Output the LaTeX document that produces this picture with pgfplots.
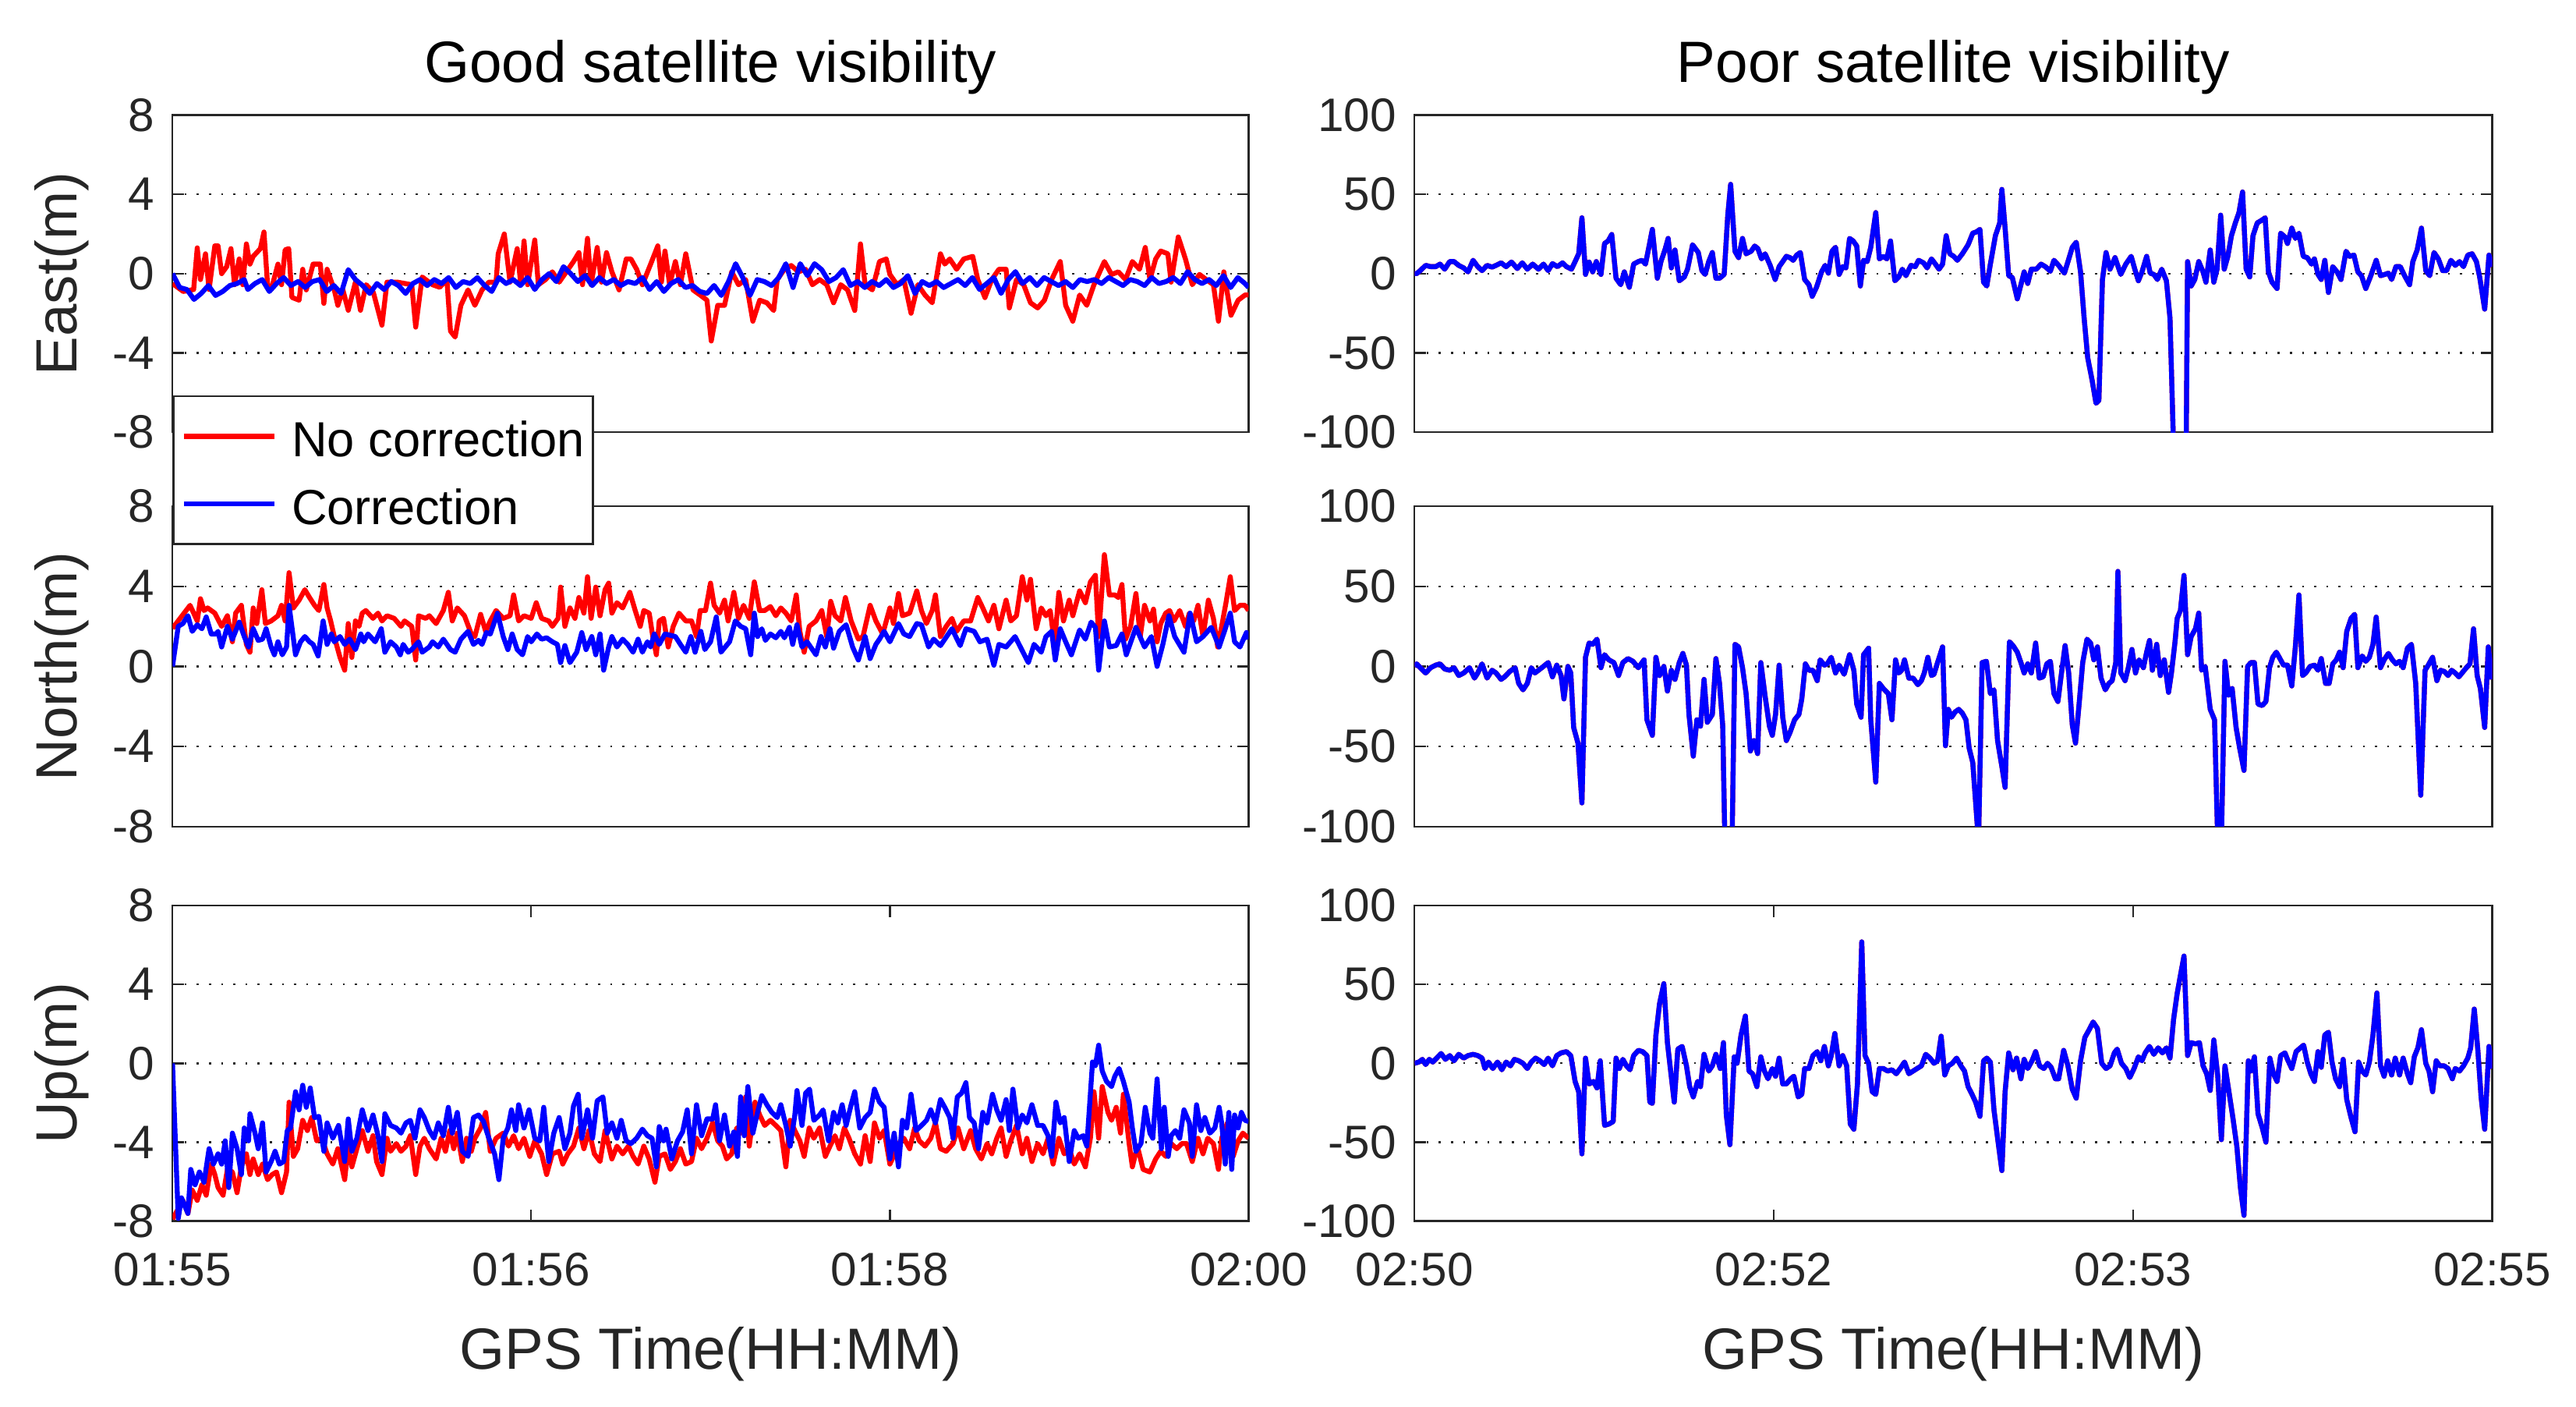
\documentclass[border=0pt]{standalone}
\usepackage{pgfplots}
\pgfplotsset{compat=1.18}
\usepackage{pgfplotstable}
\usepackage{fontspec}
\setmainfont{Liberation Sans}
\definecolor{axgray}{RGB}{38,38,38}

% ---------------- data (time in s from start of window, position error in m)
\pgfplotstableread[row sep=\\]{t y\\0 -0.5\\3 -0.9\\5.9 -0.8\\6.9 1.3\\7.8 -0.3\\9.2 1.0\\10.2 -0.8\\11.8 1.4\\12.7 1.4\\13.7 0.0\\15.1 0.35\\16.3 1.26\\17.3 -0.56\\18.6 0.74\\19.6 -0.56\\20.6 1.5\\21.6 0.48\\22.5 0.87\\24.5 1.26\\25.5 2.1\\26.5 -0.56\\27.5 -0.82\\29.4 0.48\\30.4 -0.56\\31.4 1.2\\32.4 1.26\\33.3 -1.2\\35.3 -1.34\\36.3 0.22\\37.3 -0.82\\39.2 0.48\\41.2 0.48\\42.2 -1.5\\43.1 0.22\\45.1 -0.82\\46.1 -1.6\\47.5 -0.82\\49 -1.85\\51 -0.43\\52.4 -1.85\\54 -0.56\\56 -0.95\\58.4 -2.6\\59.8 -0.43\\62.7 -0.43\\66.7 -0.56\\67.8 -2.7\\69.6 -0.17\\72.5 -0.56\\74.5 -0.69\\76.5 -0.3\\77.5 -2.9\\78.8 -3.2\\80.4 -1.6\\82.4 -0.82\\84.3 -1.6\\86.3 -0.82\\88.2 -0.43\\90.2 -0.43\\90.8 1.0\\92.5 2.0\\94.1 -0.43\\96.1 1.26\\97.1 -0.56\\98 1.65\\99 -0.56\\101 1.7\\102 -0.56\\104 -0.3\\105.9 0.09\\107.8 -0.43\\109.8 0.09\\111.8 0.61\\113.3 1.06\\114.3 -0.56\\115.7 1.78\\116.7 -0.56\\118.4 1.32\\119.6 -0.43\\121 1.06\\122.5 0.09\\124.5 -0.82\\126.5 0.74\\127.8 0.74\\129.4 0.22\\131 -0.56\\133.3 0.48\\135.3 1.4\\136.3 -0.43\\137.3 1.14\\138.6 -0.56\\140.2 0.61\\141.6 -0.56\\143.1 1.0\\145.1 -0.82\\147.1 -1.08\\149 -1.34\\150.2 -3.4\\152 -1.6\\153.9 -1.6\\155.9 0.09\\157.8 -0.56\\159.8 -0.3\\161.8 -2.4\\163.7 -1.34\\165.7 -1.47\\167.6 -1.86\\168.6 -0.3\\170.6 0.22\\172.5 0.41\\174.5 0.09\\176.5 0.22\\178.4 -0.56\\180.4 -0.3\\182.4 -0.56\\184.3 -1.47\\186.3 -0.56\\188.2 -0.82\\190.2 -1.86\\191.8 1.5\\193.1 -0.56\\195.1 -0.82\\197.1 0.61\\199 0.74\\200 -0.04\\202 -0.56\\203.9 -0.3\\205.9 -2.0\\207.8 -0.56\\209.8 -1.08\\211.8 -1.47\\214.1 1.0\\215.3 0.48\\216.7 0.74\\218.6 0.22\\220.6 0.74\\223.1 0.87\\224.5 -0.3\\226.5 -1.21\\228.4 -0.3\\230.4 0.22\\232.4 0.22\\233.3 -1.73\\235.3 -0.3\\237.3 -0.56\\239.2 -1.47\\241.2 -1.73\\243.1 -1.34\\245.1 -0.3\\247.5 0.61\\249 -1.6\\251 -2.4\\252.9 -1.08\\254.9 -1.6\\256.9 -0.56\\259.8 0.61\\261.8 -0.04\\263.7 0.09\\265.7 -0.3\\267.6 0.61\\269.6 0.22\\271.2 1.32\\272.5 -0.3\\274.1 0.74\\275.5 1.14\\277.5 1.0\\278.4 -0.43\\280.4 1.85\\282.4 0.74\\284.3 -0.56\\286.3 -0.04\\288.2 -0.3\\290.2 -0.56\\291.6 -2.4\\293.1 0.09\\295.1 -2.1\\297.1 -1.34\\299 -1.08\\300 -1.08\\}\eastR

\pgfplotstableread[row sep=\\]{t y\\0 0.0\\2 -0.7\\4 -0.8\\6 -1.3\\8 -1.0\\10 -0.6\\12 -1.1\\14 -0.9\\16 -0.6\\18 -0.5\\20 -0.3\\21 -0.8\\23 -0.5\\25 -0.3\\27 -0.9\\29 -0.5\\31 -0.2\\33 -0.6\\35 -0.4\\37 -0.7\\39 -0.4\\41 -0.3\\43 -0.9\\45 -0.6\\47 -1.0\\49 0.2\\51 -0.3\\53 -0.6\\55 -1.0\\57 -0.5\\59 -0.8\\61 -0.4\\63 -0.6\\65 -1.0\\67 -0.5\\69 -0.3\\71 -0.6\\73 -0.3\\75 -0.5\\77 -0.2\\79 -0.7\\81 -0.4\\83 -0.5\\85 -0.2\\87 -0.6\\89 -0.9\\91 -0.2\\93 -0.5\\95 -0.3\\97 -0.6\\99 -0.2\\101 -0.8\\103 -0.3\\105 0.0\\107 -0.4\\109 0.35\\111 0.0\\113 -0.4\\115 -0.1\\117 -0.6\\119 -0.2\\121 -0.5\\123 -0.3\\125 -0.6\\127 -0.4\\129 -0.5\\131 -0.2\\133 -0.8\\135 -0.4\\137 -0.9\\139 -0.5\\141 -0.3\\143 -0.7\\145 -0.6\\147 -0.9\\149 -1.0\\151 -0.6\\153 -1.1\\155 -0.4\\157 0.5\\159 -0.2\\161 -1.1\\163 -0.3\\165 -0.4\\167 -0.6\\169 -0.2\\171 0.5\\173 -0.7\\175 0.5\\177 -0.1\\179 0.5\\181 0.2\\183 -0.4\\185 -0.2\\187 0.2\\189 -0.6\\191 -0.4\\193 -0.7\\195 -0.4\\197 -0.6\\199 -0.3\\201 -0.7\\203 -0.5\\205 -0.1\\207 -1.0\\209 -0.4\\211 -0.6\\213 -0.4\\215 -0.7\\217 -0.5\\219 -0.3\\221 -0.6\\223 -0.2\\225 -0.8\\227 -0.5\\229 -0.2\\231 -1.0\\233 -0.3\\235 0.1\\237 -0.5\\239 -0.2\\241 -0.6\\243 -0.2\\245 -0.4\\247 -0.6\\249 -0.4\\251 -0.7\\253 -0.3\\255 -0.4\\257 -0.3\\259 -0.5\\261 -0.2\\263 -0.4\\265 -0.6\\267 -0.3\\269 -0.4\\271 -0.6\\273 -0.2\\275 -0.5\\277 -0.4\\279 -0.2\\281 -0.5\\283 0.1\\285 -0.3\\287 -0.5\\289 -0.3\\291 -0.6\\293 -0.1\\295 -0.7\\297 -0.2\\299 -0.5\\300 -0.7\\}\eastB

\pgfplotstableread[row sep=\\]{t y\\0 1.9\\4.9 3.05\\6.9 2.27\\7.8 3.38\\8.8 2.79\\9.8 2.92\\11.8 2.66\\13.7 2.0\\15.3 2.53\\16.7 1.23\\17.6 2.66\\19.2 3.05\\20.6 1.1\\21.6 0.71\\22.5 2.92\\23.5 2.14\\24.9 3.83\\25.9 2.14\\27.5 2.27\\29.4 2.53\\30.4 3.05\\31.4 2.27\\32.5 4.68\\33.7 2.92\\35.3 3.31\\36.9 3.83\\38.2 3.44\\39.6 3.05\\40.8 2.79\\42.2 4.09\\43.1 2.92\\44.1 2.27\\45.1 1.49\\46.7 0.45\\48 -0.19\\49 2.14\\50 0.45\\51 2.27\\52 2.0\\52.9 2.66\\53.9 2.79\\55.9 2.4\\57.3 2.66\\58.4 2.27\\59.8 2.53\\61.8 2.4\\63.7 2.0\\64.7 2.27\\66.7 2.0\\67.8 0.32\\68.6 2.53\\70.6 2.4\\71.6 2.53\\73.5 2.14\\75.5 2.79\\76.9 3.7\\78 2.27\\79.4 2.92\\81.4 2.53\\83.3 1.62\\84.3 1.49\\85.9 2.6\\87.3 1.75\\88.6 2.27\\90.2 2.79\\92.2 2.4\\94.1 2.53\\95.1 3.57\\96.5 2.27\\98 2.53\\100 2.4\\101.4 3.18\\102.9 2.4\\104.9 2.27\\105.9 2.0\\107.5 2.4\\108.2 3.96\\109.4 2.0\\110.8 2.92\\112.2 2.4\\113.3 3.44\\114.7 2.66\\115.7 4.48\\116.7 2.4\\118 3.96\\119.2 2.53\\120.6 3.83\\121.6 4.16\\122.5 2.66\\123.9 3.18\\125.5 2.92\\127.5 3.7\\129 2.79\\130.4 2.0\\131.4 2.79\\132.9 2.66\\133.9 1.49\\134.9 0.58\\135.7 2.27\\136.9 2.4\\138.2 0.97\\139.6 2.0\\141.2 2.66\\143.1 2.27\\144.7 2.27\\146.1 1.49\\147.1 2.79\\148.6 2.79\\150 4.16\\151 3.05\\152.5 2.66\\153.9 3.31\\154.9 2.27\\156.5 3.7\\157.8 2.4\\159.2 3.05\\160.8 2.4\\162.2 4.22\\163.7 2.79\\165.1 2.79\\166.7 2.99\\168.2 2.53\\169.6 2.92\\171 2.66\\172.5 2.27\\173.9 3.57\\174.9 1.75\\176.1 0.71\\177.5 2.0\\179.4 2.27\\181 2.79\\182.4 1.49\\183.5 3.25\\184.7 2.53\\186.3 2.27\\187.6 3.44\\189.2 2.27\\191.2 1.36\\192.5 1.49\\194.5 3.05\\196.1 2.27\\198 1.62\\200 2.92\\201 2.14\\202.4 3.64\\203.5 2.53\\205.5 2.66\\207.5 3.77\\208.8 2.79\\210.2 2.14\\211.8 2.79\\212.7 3.57\\214.1 1.49\\215.7 2.0\\217.3 2.4\\218.6 1.75\\220.6 2.27\\222.5 2.27\\224.5 3.44\\225.9 2.92\\227.5 2.27\\229 3.05\\230.4 1.88\\232.4 3.31\\233.7 2.27\\235.3 2.53\\236.9 4.48\\238.2 3.31\\239.2 4.35\\240.8 1.88\\242.2 2.92\\243.5 2.53\\244.7 2.79\\245.9 1.1\\247.1 3.7\\248.4 2.27\\250 3.31\\251 2.53\\252.9 3.77\\254.5 3.18\\255.9 4.22\\257.3 4.55\\258.2 1.49\\259.8 5.58\\261.2 3.57\\262.7 3.57\\263.7 3.44\\264.7 4.09\\265.7 1.36\\267.1 2.0\\268.6 3.64\\269.8 1.49\\271 3.05\\272.5 2.27\\273.5 2.86\\274.5 1.23\\275.5 2.14\\276.9 2.66\\278 2.79\\279.2 2.27\\280.8 2.79\\282.4 2.0\\283.5 2.66\\284.7 2.27\\285.9 3.05\\287.3 1.49\\288.8 3.31\\290.2 2.4\\291.4 0.97\\292.5 2.0\\293.7 3.18\\294.9 4.48\\296.1 2.79\\297.6 3.05\\299 3.05\\300 2.79\\}\northR

\pgfplotstableread[row sep=\\]{t y\\0 0\\1.6 2.0\\2.9 2.14\\4.3 2.53\\5.5 1.75\\6.9 2.08\\8.2 1.88\\9.4 2.47\\10.8 1.62\\12.2 1.62\\12.7 1.75\\13.7 0.97\\15.3 2.0\\16.7 1.36\\18.6 2.21\\20 1.49\\21.2 0.97\\22.5 1.88\\23.9 1.3\\25.1 1.36\\26.1 1.88\\27.5 0.97\\28.4 0.58\\29.4 1.23\\30.6 0.58\\31.8 0.97\\32.5 3.05\\34.3 0.58\\35.7 1.23\\36.9 1.49\\38.2 1.23\\39.2 1.1\\40.6 0.52\\42 2.27\\43.1 1.1\\44.3 1.62\\45.1 1.23\\46.7 1.49\\48 1.1\\49.4 1.36\\51 0.84\\52.5 1.62\\53.3 1.23\\54.5 1.62\\56.5 1.23\\58.2 1.88\\59.2 0.71\\60.8 1.23\\62.4 0.97\\63.5 0.58\\64.3 1.1\\65.7 0.71\\66.7 0.84\\68.6 1.23\\69.6 0.71\\71.6 0.97\\72.5 1.23\\74.1 0.97\\75.5 1.36\\77.5 0.84\\78.8 0.71\\80.4 1.36\\82.4 1.75\\83.9 1.1\\85.3 1.3\\86.3 1.1\\87.5 1.69\\88.6 1.62\\90.6 2.66\\92.2 1.49\\93.5 0.84\\94.7 1.62\\96.1 0.84\\97.6 0.58\\99 1.49\\100 1.23\\101.6 1.62\\102.9 1.36\\104.3 1.43\\105.9 1.23\\107.3 1.1\\108.2 0.19\\109.4 1.04\\110.8 0.19\\112.7 0.71\\114.1 1.69\\115.3 0.84\\116.9 1.49\\118 0.58\\119.2 1.62\\120.2 -0.19\\121.6 0.97\\122.5 1.49\\123.9 0.97\\125.5 1.36\\126.9 1.1\\128.4 0.71\\129.8 1.36\\131 0.71\\132.4 1.23\\133.3 0.97\\134.3 1.62\\135.7 1.1\\137.3 1.62\\140.2 1.49\\141.6 1.1\\143.1 0.71\\144.5 1.49\\145.7 0.71\\147.3 1.75\\148.4 0.84\\150 1.23\\151.6 2.47\\152.9 0.71\\155.3 1.23\\156.9 2.27\\158.4 2.0\\159.8 1.88\\161.2 0.58\\162.2 2.66\\163.1 1.49\\164.3 1.88\\165.3 1.3\\166.7 1.62\\168.2 1.43\\169.6 1.75\\170.6 1.43\\172 1.95\\172.9 1.1\\174.1 2.08\\175.5 0.97\\176.9 1.23\\179.4 0.58\\180.8 1.49\\182 0.97\\183.3 1.88\\184.3 0.91\\185.9 1.75\\187.8 2.08\\189.6 0.97\\191.2 0.32\\193.1 1.49\\194.5 0.39\\196.1 1.1\\197.1 1.36\\198.4 1.75\\200 1.23\\202.4 2.14\\203.9 1.62\\205.5 1.49\\207.5 2.14\\208.8 2.08\\210.8 0.97\\212.2 1.36\\214.1 1.04\\217.3 1.88\\219.6 1.04\\221.2 1.88\\223.5 1.75\\225.1 1.23\\227.1 1.36\\229 0.06\\230.4 1.1\\232.4 0.97\\234.9 1.49\\238.6 0.19\\240.2 1.1\\242.2 0.71\\243.5 1.49\\245.1 1.75\\246.1 0.32\\247.5 1.88\\249 1.23\\250.6 0.58\\252.9 1.82\\254.5 1.36\\256.1 2.21\\257.3 1.95\\258.2 -0.19\\259.8 2.27\\261.2 0.97\\263.1 1.04\\264.7 1.62\\265.9 0.58\\268.6 1.95\\271 0.97\\272.9 1.49\\274.5 0\\276.1 1.1\\277.8 2.53\\279.4 1.49\\282 0.71\\283.7 2.66\\285.5 1.23\\287.3 1.49\\289.6 1.95\\291.8 0.97\\293.5 1.88\\294.9 2.66\\296.1 1.23\\297.6 0.97\\299.4 1.69\\300 1.36\\}\northB

\pgfplotstableread[row sep=\\]{t y\\0 -7.9\\2.9 -6.95\\4.3 -7.61\\5.5 -6.43\\6.9 -6.95\\8.2 -6.16\\9.4 -6.69\\10.8 -5.11\\11.8 -5.64\\12.7 -6.3\\14.1 -6.69\\15.3 -5.38\\16.7 -5.51\\18 -6.56\\19.2 -5.25\\20.6 -4.59\\21.6 -5.64\\22.5 -4.85\\23.9 -5.64\\25.1 -5.11\\26.5 -5.9\\27.8 -5.64\\29 -5.51\\30.4 -6.56\\31.8 -5.51\\32.5 -1.97\\33.7 -4.72\\34.9 -4.33\\36.3 -2.89\\37.6 -3.41\\38.8 -2.75\\40.2 -3.93\\41.6 -3.8\\43.1 -4.59\\44.7 -5.11\\46.1 -4.33\\48 -5.9\\49 -4.2\\50 -5.25\\51.4 -4.33\\52.9 -3.41\\54.5 -4.46\\55.9 -3.67\\56.9 -4.98\\58.4 -5.64\\59.8 -3.8\\60.8 -4.46\\62.4 -4.07\\63.7 -4.46\\65.1 -4.2\\66.3 -3.67\\67.8 -5.64\\69 -4.2\\70.2 -3.8\\71.6 -4.33\\73.5 -4.85\\74.9 -3.8\\76.1 -4.46\\77.3 -3.41\\78.4 -4.33\\79.4 -3.54\\80.8 -4.98\\82 -3.8\\83.3 -4.46\\84.3 -3.8\\85.9 -3.28\\87.3 -2.49\\88.6 -4.46\\90.2 -3.8\\92.2 -3.54\\93.7 -4.2\\95.1 -3.67\\96.5 -4.33\\98 -3.8\\99.6 -4.72\\101 -3.93\\102.9 -4.59\\104.3 -5.64\\105.9 -4.59\\107.8 -4.46\\108.8 -5.11\\110.2 -4.59\\111.8 -4.2\\113.3 -3.28\\114.7 -4.33\\116.1 -3.41\\117.6 -4.59\\119.2 -4.98\\120.6 -3.41\\122.5 -4.85\\123.9 -4.2\\125.5 -4.59\\127.1 -4.2\\128.4 -4.72\\129.8 -5.11\\131.4 -4.2\\132.9 -4.85\\134.5 -6.03\\135.7 -4.72\\137.3 -4.59\\138.8 -5.38\\140.2 -4.98\\141.6 -4.33\\143.1 -5.11\\144.7 -4.98\\146.1 -3.8\\147.5 -4.33\\149 -3.8\\150.6 -3.02\\152 -3.93\\153.3 -4.2\\154.5 -4.85\\155.9 -4.59\\157.3 -3.28\\158.4 -3.54\\159.8 -1.7\\160.8 -4.2\\162.4 -1.97\\163.7 -2.62\\165.1 -3.15\\166.7 -2.89\\168.2 -3.15\\169.6 -3.41\\171 -5.25\\172.2 -2.89\\173.5 -3.41\\174.9 -3.93\\176.1 -4.72\\177.5 -3.28\\178.8 -3.8\\180.4 -3.28\\182 -4.72\\183.3 -4.2\\184.7 -3.67\\185.9 -4.33\\187.3 -3.28\\188.6 -3.8\\190.2 -4.59\\191.8 -5.11\\193.1 -3.67\\194.5 -4.98\\195.7 -3.02\\197.1 -3.8\\198.4 -3.41\\200 -5.11\\201 -4.72\\202.4 -4.07\\203.9 -3.8\\205.5 -4.33\\206.9 -3.28\\208.2 -3.93\\209.8 -4.2\\211.4 -3.8\\212.7 -3.02\\214.1 -4.33\\215.7 -4.46\\217.6 -4.07\\219 -3.28\\220.6 -4.33\\222.5 -3.41\\223.9 -4.33\\225.5 -4.85\\227.1 -4.07\\228.4 -4.59\\229.8 -3.8\\231 -3.28\\232.4 -4.72\\233.7 -3.93\\235.3 -3.15\\236.9 -4.59\\238.2 -3.8\\239.6 -4.98\\241.2 -4.07\\242.7 -4.59\\244.1 -3.8\\245.5 -5.11\\247.1 -3.8\\248.6 -4.59\\250 -4.33\\251.4 -5.11\\252.9 -4.59\\254.5 -5.25\\255.9 -3.8\\256.9 -1.44\\258.2 -3.8\\259.2 -1.18\\260.8 -2.49\\261.8 -2.89\\263.1 -2.23\\264.3 -3.54\\265.1 -1.57\\266.7 -4.07\\267.6 -5.25\\269 -4.2\\270.6 -5.38\\272.5 -5.51\\274.1 -4.85\\275.5 -4.46\\276.9 -4.72\\278.4 -4.07\\280 -4.33\\281.4 -4.07\\282.7 -4.07\\284.3 -4.98\\285.9 -3.8\\287.3 -4.59\\288.6 -3.8\\290.2 -4.07\\291.6 -5.38\\292.5 -3.8\\294.1 -3.02\\295.7 -4.72\\297.1 -3.93\\298.4 -3.54\\300 -3.8\\}\upR

\pgfplotstableread[row sep=\\]{t y\\0 0\\1.6 -7.87\\2.5 -6.82\\4.3 -7.61\\5.1 -5.38\\6.3 -6.16\\7.5 -5.51\\8.8 -6.03\\10.2 -4.33\\11.4 -5.11\\12.7 -4.59\\13.7 -5.11\\14.7 -3.93\\15.7 -6.3\\16.7 -3.54\\18 -4.33\\19.2 -5.64\\20 -3.28\\21.2 -3.93\\21.6 -2.56\\23 -3.54\\23.9 -4.33\\25.1 -3.02\\26.1 -5.51\\27.5 -4.98\\28.6 -4.46\\29.8 -5.11\\31 -4.98\\32 -3.41\\32.9 -3.28\\34.3 -1.44\\35.3 -2.36\\36.3 -1.11\\37.3 -2.23\\38.4 -1.25\\39.6 -2.75\\40.8 -2.69\\42.2 -4.46\\43.1 -3.02\\44.7 -3.8\\46.3 -3.15\\48 -4.98\\49 -2.82\\50 -4.46\\51.4 -3.8\\52.9 -2.36\\54.5 -3.41\\55.9 -2.62\\57.3 -3.67\\58.4 -4.98\\59.2 -2.56\\60.8 -3.15\\62.4 -3.28\\63.7 -3.54\\65.1 -3.02\\66.3 -2.89\\67.6 -3.8\\69 -2.36\\70.2 -2.75\\71.6 -3.41\\72.9 -3.8\\74.1 -3.02\\75.5 -3.67\\76.9 -2.23\\78 -3.54\\79.4 -2.49\\80.8 -4.46\\82.4 -4.72\\83.9 -2.75\\85.3 -2.62\\86.7 -2.95\\88.2 -3.8\\89.8 -4.59\\91 -5.9\\92.2 -3.8\\93.5 -3.28\\94.5 -2.36\\95.7 -3.41\\96.5 -2.1\\98 -3.28\\99.4 -2.36\\101 -3.8\\102.4 -3.93\\103.5 -2.23\\104.9 -4.98\\106.3 -3.54\\107.8 -2.75\\109.4 -4.33\\110.8 -3.54\\111.8 -2.16\\113.1 -1.57\\114.1 -3.8\\115.7 -2.36\\117.1 -3.8\\118.4 -1.9\\120 -1.7\\121.2 -3.54\\122.5 -3.02\\123.9 -3.8\\125.1 -2.89\\126.5 -3.93\\127.8 -4.07\\129.4 -3.8\\131 -3.34\\132.4 -3.67\\133.7 -3.8\\134.9 -5.25\\135.7 -3.21\\136.9 -3.93\\137.6 -3.34\\139.2 -4.85\\140.8 -3.93\\142.2 -3.48\\143.5 -2.36\\144.7 -4.59\\146.1 -2.1\\147.5 -3.67\\149 -2.82\\150.6 -2.82\\151.4 -2.1\\152.5 -3.93\\153.9 -2.62\\155.3 -4.2\\156.5 -3.48\\157.5 -4.72\\158.4 -1.7\\159.4 -3.67\\160.4 -1.18\\161.8 -3.54\\163.1 -2.49\\164.3 -1.64\\165.7 -2.1\\167.1 -2.49\\168.6 -2.75\\169.6 -2.1\\171 -3.15\\172.2 -4.2\\173.5 -2.62\\174.1 -1.38\\175.5 -3.15\\176.5 -1.51\\177.6 -1.31\\178.8 -2.89\\180.4 -2.62\\181.4 -2.36\\182.9 -3.93\\184.3 -2.49\\185.5 -3.02\\186.7 -2.1\\187.8 -3.15\\189.2 -2.1\\190.2 -1.44\\191.6 -3.28\\193.1 -2.75\\194.5 -2.49\\195.7 -1.31\\197.1 -1.97\\198.4 -2.23\\200 -4.85\\201.2 -3.54\\202.4 -5.25\\203.5 -2.89\\204.7 -3.28\\205.9 -1.57\\207.3 -3.41\\208.8 -3.15\\210.2 -2.89\\211.4 -2.36\\212.7 -3.02\\214.1 -1.84\\215.3 -2.23\\216.7 -2.75\\217.6 -3.8\\218.8 -1.7\\220 -1.51\\221.2 -0.98\\222.2 -2.75\\223.5 -3.02\\224.7 -4.33\\225.9 -2.49\\227.1 -3.02\\228.6 -1.57\\229.8 -2.36\\231 -2.89\\232.4 -1.84\\233.3 -3.41\\234.3 -1.31\\235.7 -3.28\\236.9 -2.62\\238.2 -3.02\\239.6 -2.1\\241.2 -3.15\\242.7 -3.15\\244.1 -3.67\\245.1 -4.72\\246.3 -1.97\\247.5 -3.02\\248.6 -2.75\\250 -4.98\\251.4 -3.41\\252.5 -3.8\\253.9 -3.67\\254.9 -4.2\\256.5 0.07\\257.3 -0.13\\258.2 0.92\\259.2 -0.39\\260.4 -0.92\\261.8 -1.18\\262.7 -0.66\\263.9 -0.26\\265.1 -0.92\\266.7 -1.97\\267.6 -3.28\\268.6 -4.46\\270 -4.07\\271.2 -2.23\\272.5 -3.54\\273.3 -3.8\\274.5 -0.79\\275.7 -4.33\\276.5 -2.23\\277.6 -4.72\\278.4 -3.67\\279.6 -3.41\\280.8 -3.8\\282 -2.36\\283.5 -3.02\\284.3 -4.72\\285.5 -2.1\\286.7 -3.41\\287.8 -2.75\\289.2 -3.54\\290.6 -3.28\\291.8 -2.23\\292.5 -3.02\\293.5 -5.11\\294.5 -2.49\\295.3 -5.38\\296.1 -2.62\\297.1 -3.28\\298 -2.49\\299 -2.89\\300 -2.95\\}\upB

\pgfplotstableread[row sep=\\]{t y\\0 0\\0.6 0\\1.6 1.9\\3.1 5.2\\4.5 4.4\\5.9 4.4\\7.1 6.0\\8.4 2.8\\9.8 7.6\\11.0 7.6\\12.3 5.2\\13.7 3.6\\14.9 1.1\\16.3 8.4\\17.6 4.4\\18.8 1.9\\20.2 5.2\\21.6 4.1\\22.7 5.2\\24.1 6.8\\25.5 4.4\\27.0 7.3\\28.6 3.2\\30.0 6.8\\31.4 2.8\\32.9 6.0\\34.5 2.8\\35.9 6.0\\37.2 1.9\\38.4 6.3\\39.8 4.4\\41.2 6.8\\42.3 4.4\\43.7 2.8\\44.7 7.6\\45.7 12.5\\46.6 35.2\\47.6 -0.5\\48.6 7.3\\49.6 1.1\\50.6 7.6\\51.9 -0.5\\52.9 19.0\\53.9 20.6\\54.9 24.7\\56.1 -2.9\\57.4 -7.0\\58.4 1.1\\59.8 -8.6\\61.0 6.0\\62.3 7.6\\63.3 8.4\\64.3 6.0\\65.3 17.4\\66.2 27.9\\67.6 -2.9\\68.6 7.6\\69.8 15.7\\70.6 22.2\\71.5 3.6\\72.5 14.9\\73.7 -4.5\\75.1 -2.1\\76.0 2.8\\77.4 18.2\\79.0 13.3\\80.0 1.9\\80.9 -0.5\\81.9 7.6\\82.9 13.3\\83.9 -2.9\\84.9 -2.9\\86.2 -0.5\\87.2 36.9\\88.0 56.3\\89.2 14.1\\90.2 10.1\\91.3 22.2\\92.3 12.5\\93.7 14.1\\94.7 17.4\\95.6 15.7\\96.6 9.3\\97.6 12.5\\99.0 5.2\\100.4 -3.7\\101.5 4.4\\102.5 7.6\\103.5 10.9\\104.5 10.1\\105.4 8.4\\106.4 11.7\\107.4 13.3\\108.6 -3.7\\109.8 -7.0\\110.7 -14.3\\111.9 -8.6\\113.3 1.1\\114.3 5.2\\115.2 0.3\\116.2 14.1\\117.2 16.6\\118.2 -0.5\\119.2 4.4\\120.1 3.6\\121.1 22.2\\122.1 20.6\\123.1 17.4\\124.1 -7.8\\125.0 8.4\\126.0 7.6\\127.0 16.6\\128.4 38.5\\129.4 9.3\\130.5 10.9\\131.5 9.3\\132.5 20.6\\133.7 -4.5\\134.8 -2.1\\135.8 2.8\\136.8 -1.3\\138.2 5.2\\139.4 4.4\\140.3 8.4\\141.7 6.8\\142.7 3.6\\143.9 9.3\\145.0 6.0\\146.0 2.8\\147.0 6.0\\148.0 23.9\\149.0 12.5\\150.1 10.9\\151.1 8.4\\152.5 12.5\\154.1 18.2\\155.4 25.5\\156.4 26.3\\157.4 27.9\\158.4 -5.4\\159.3 -7.8\\160.3 6.0\\161.7 23.9\\162.9 32.0\\163.5 53.1\\164.4 28.7\\165.4 -1.3\\166.4 -2.4\\167.8 -15.9\\168.8 -7.0\\169.7 1.1\\170.7 -6.2\\171.7 2.8\\173.1 2.8\\174.4 6.0\\175.6 4.4\\177.0 1.5\\178.0 8.4\\179.3 5.2\\180.9 0.3\\181.9 7.6\\183.1 16.6\\184.2 19.8\\185.4 1.1\\186.4 -28.1\\187.4 -53.2\\188.6 -67.0\\189.7 -81.7\\190.5 -80.0\\191.5 -3.7\\192.5 13.3\\193.6 2.8\\195.0 10.1\\196.6 -0.5\\198.0 6.0\\199.5 10.9\\200.5 2.8\\201.5 -4.5\\202.5 1.1\\203.8 10.9\\204.8 0.3\\205.8 -0.5\\206.8 -3.7\\208.0 2.8\\209.3 -4.5\\210.3 -28.1\\211.3 -110\\213.6 -110\\214.8 -110\\215.2 7.6\\216.2 -7.8\\217.2 -3.7\\218.3 7.6\\219.5 1.1\\220.3 -5.4\\221.5 14.9\\222.5 -5.4\\223.4 2.8\\224.4 36.9\\225.4 2.8\\226.4 10.9\\227.4 23.9\\228.5 32.0\\229.5 38.5\\230.5 51.5\\231.5 2.8\\232.5 -2.1\\233.4 23.9\\234.6 32.0\\235.8 33.6\\236.8 35.2\\237.7 1.1\\238.7 -5.4\\240.1 -9.4\\241.1 25.5\\242.3 23.1\\243.0 19.0\\244.2 28.7\\245.2 22.2\\246.2 25.5\\247.4 10.9\\248.5 10.1\\249.7 6.0\\250.5 9.3\\251.5 -0.5\\252.4 -3.7\\253.4 8.4\\254.4 -11.9\\255.6 4.4\\256.8 1.1\\257.9 -3.7\\259.3 14.1\\260.3 10.9\\261.5 11.7\\262.6 1.1\\263.6 -1.3\\264.8 -9.4\\266.2 -1.3\\267.7 8.4\\268.9 -1.3\\270.1 -0.5\\271.1 0.3\\272.0 -3.7\\273.2 4.4\\274.4 4.4\\275.6 -1.3\\277.0 -7.0\\277.9 7.6\\279.1 14.9\\280.3 28.7\\281.5 1.9\\282.6 -1.3\\283.8 13.3\\285.0 9.3\\286.2 1.9\\287.3 1.9\\288.5 8.4\\289.7 5.2\\290.9 7.6\\292.0 4.4\\293.2 11.7\\294.4 12.5\\295.6 7.6\\296.5 -2.1\\297.9 -22.4\\299.1 11.7\\300 4.4\\}\peast

\pgfplotstableread[row sep=\\]{t y\\0 0\\0.6 1.6\\1.6 -0.8\\3.1 -4.1\\4.5 -0.8\\5.9 0.8\\7.1 1.6\\8.4 -1.6\\9.8 -2.4\\11.0 -0.8\\12.3 -5.7\\13.7 -4.1\\15.3 -0.8\\16.7 -7.3\\17.6 -4.1\\18.8 1.6\\20.2 -7.3\\21.6 -2.4\\22.7 -4.1\\24.1 -8.1\\25.1 -6.5\\26.5 -3.2\\28.0 -0.8\\29.0 -10.6\\30.2 -14.6\\31.4 -10.6\\32.5 -0.8\\33.5 -4.1\\34.5 -2.4\\35.9 0\\37.2 2.4\\38.4 -6.5\\39.6 0.8\\40.8 -5.7\\41.6 -20.3\\42.7 0\\43.5 -4.1\\44.3 -38.1\\45.5 -47.9\\46.6 -85.2\\47.6 5.7\\48.6 14.6\\49.6 13.8\\50.8 17.0\\51.9 -0.8\\52.9 7.3\\54.1 4.1\\55.5 2.4\\56.8 -5.7\\58.0 2.4\\59.4 4.9\\60.8 3.2\\62.3 -0.8\\63.9 4.1\\64.7 -33.3\\66.2 -43.0\\67.2 5.7\\68.2 -5.7\\69.4 0\\70.4 -15.4\\71.5 -2.4\\72.5 -8.1\\73.7 2.4\\74.7 8.1\\75.7 0.8\\76.4 -30.0\\77.6 -56.0\\78.6 -33.3\\79.6 -37.3\\80.6 -8.1\\81.5 -34.9\\82.9 -30.0\\83.9 4.9\\84.9 -10.6\\85.8 -37.3\\86.4 -110\\88.4 -110\\89.2 13.8\\90.2 12.2\\91.3 -0.8\\92.3 -17.0\\93.5 -52.8\\94.5 -46.3\\95.5 -54.4\\96.4 2.4\\97.6 -18.7\\98.8 -37.3\\99.6 -43.0\\100.5 -30.0\\101.5 0.8\\102.5 -31.7\\103.5 -46.3\\104.5 -41.4\\105.8 -33.3\\107.0 -30.0\\107.8 -20.3\\108.8 1.6\\109.8 -2.4\\110.9 -2.4\\112.1 -8.9\\112.9 4.1\\114.1 0.8\\114.9 1.6\\116.0 5.7\\117.2 -4.1\\118.2 0.8\\119.6 -4.9\\121.1 7.3\\122.3 -2.4\\123.1 -23.5\\124.3 -31.7\\125.0 7.3\\126.4 11.4\\127.0 -33.3\\128.4 -72.2\\129.4 -10.6\\130.5 -13.8\\131.9 -17.0\\132.9 -33.3\\133.9 4.1\\134.8 -4.1\\135.6 -2.4\\136.4 4.1\\137.6 -7.3\\138.8 -7.3\\140.1 -11.4\\141.1 -8.9\\141.9 -4.1\\142.9 5.7\\143.9 -5.7\\144.6 -4.9\\145.6 2.4\\147.0 12.2\\147.8 -49.5\\148.6 -26.8\\149.5 -31.7\\150.5 -28.4\\151.5 -26.8\\152.5 -29.2\\153.5 -33.3\\154.4 -51.1\\155.4 -60.1\\157.0 -110\\158.0 2.4\\159.2 3.2\\160.3 -17.0\\161.3 -14.6\\162.3 -46.3\\163.5 -62.5\\164.4 -75.5\\165.6 15.4\\166.6 13.0\\167.8 8.9\\168.8 2.4\\169.7 -4.1\\170.7 1.6\\171.7 -4.1\\172.9 14.6\\173.9 -7.3\\175.0 -6.5\\176.0 1.6\\177.0 3.2\\178.0 -17.0\\179.1 -21.9\\180.1 -4.1\\181.1 13.0\\182.1 -4.1\\183.1 -36.5\\184.0 -47.9\\185.0 -23.5\\186.0 2.4\\187.2 17.0\\188.2 14.6\\189.1 4.1\\190.1 12.2\\191.1 -7.3\\192.3 -14.6\\193.3 -10.6\\194.2 -8.9\\195.2 2.4\\195.8 59.3\\196.6 -4.1\\197.8 -8.9\\198.7 -0.8\\199.7 10.6\\200.7 -4.1\\201.7 4.1\\202.9 -0.8\\203.8 8.9\\204.6 16.2\\205.4 -2.4\\206.6 13.8\\207.6 -5.7\\208.7 4.1\\209.9 -16.2\\210.7 -4.1\\211.7 15.4\\212.3 30.0\\213.2 34.9\\214.2 56.8\\215.2 7.3\\216.2 18.7\\217.4 23.5\\218.3 33.3\\219.1 -2.4\\220.1 0\\221.5 -26.8\\222.7 -33.3\\223.6 -110\\224.6 -110\\225.6 3.2\\226.6 -17.9\\227.6 -13.8\\228.7 -38.1\\229.7 -51.1\\230.9 -64.9\\231.9 0\\232.8 2.4\\233.8 2.4\\234.8 -23.5\\236.0 -24.4\\237.0 -21.9\\238.0 -0.8\\238.9 5.7\\239.9 8.9\\240.7 5.7\\241.9 0.8\\243.0 0.8\\244.2 -12.2\\245.2 12.2\\246.2 44.6\\247.2 -5.7\\248.1 -4.1\\249.3 0\\250.5 0.8\\251.5 -2.4\\252.4 4.9\\253.6 -10.6\\254.6 -10.6\\255.6 1.6\\256.6 4.1\\257.5 8.9\\258.5 -0.8\\259.5 21.9\\260.7 30.0\\261.7 32.5\\262.6 -0.8\\263.8 6.5\\264.8 3.2\\265.8 5.7\\266.8 13.8\\267.7 30.8\\268.9 -0.8\\269.9 4.1\\271.1 8.1\\272.2 4.1\\273.2 1.6\\274.2 3.2\\275.2 -0.8\\276.4 11.4\\277.5 13.8\\278.7 -10.6\\280.1 -80.4\\281.3 -2.4\\282.2 0.8\\283.4 5.7\\284.6 -8.9\\285.6 -2.4\\286.7 -3.2\\287.7 -5.7\\288.7 -2.4\\289.7 -4.1\\290.7 -6.5\\291.6 -4.1\\292.8 -0.8\\293.8 1.6\\294.8 23.5\\295.8 -5.7\\296.7 -13.8\\297.9 -38.1\\298.9 12.2\\300 -8.1\\}\pnorth

\pgfplotstableread[row sep=\\]{t y\\0 0\\1.2 0.8\\2.2 2.5\\3.1 -0.8\\4.1 2.5\\5.1 0.8\\6.5 4.1\\7.4 6.2\\8.6 2.5\\9.8 4.9\\11.0 1.6\\12.3 5.7\\13.7 3.3\\14.9 4.9\\16.3 5.7\\17.6 4.9\\18.8 3.3\\19.6 -3.3\\20.6 0.8\\21.8 -3.3\\23.1 0.8\\24.3 -4.1\\25.5 0.8\\26.7 -1.6\\27.8 2.5\\29.0 1.6\\30.2 0\\31.4 -3.3\\32.5 0.8\\33.7 3.3\\34.9 1.6\\36.1 -0.8\\37.2 3.3\\38.4 -1.6\\39.6 4.9\\40.8 6.6\\42.3 7.4\\43.5 4.9\\44.7 -11.5\\45.7 -18.0\\46.6 -57.4\\47.6 3.3\\48.6 -13.1\\49.8 -11.5\\50.8 -15.6\\51.7 1.6\\52.9 -39.3\\54.1 -38.5\\55.3 -36.9\\56.1 3.3\\57.0 -3.3\\58.0 2.5\\59.0 -1.6\\60.0 -4.1\\61.0 4.9\\62.3 8.2\\63.5 7.4\\64.7 4.9\\65.5 -24.6\\66.2 -25.4\\67.2 18.0\\68.2 37.7\\69.4 50.5\\70.4 13.1\\71.3 -4.9\\72.3 -24.6\\73.3 9.0\\74.5 10.7\\75.7 -1.6\\76.6 -14.8\\77.6 -21.3\\78.8 -11.5\\79.6 -14.8\\80.6 5.7\\81.9 -4.9\\82.9 -1.6\\83.9 5.7\\85.1 -3.3\\86.0 13.1\\86.8 -32.8\\87.8 -51.6\\89.0 4.1\\89.8 0\\90.9 18.0\\92.1 30.0\\93.1 -4.9\\94.1 -6.6\\95.3 -14.8\\96.4 4.1\\97.4 -4.9\\98.4 -9.8\\99.6 -3.3\\100.5 -8.2\\101.5 3.3\\102.5 -13.1\\103.5 -13.1\\104.7 -9.8\\105.6 -8.2\\106.8 -21.3\\107.8 -19.7\\108.6 -3.3\\109.8 -3.3\\110.9 4.9\\112.1 7.4\\113.1 1.6\\114.1 10.7\\115.2 -1.6\\116.0 4.9\\117.0 18.9\\118.2 -1.6\\119.2 4.9\\120.3 -1.6\\121.3 -38.5\\122.3 -41.8\\123.3 -13.1\\124.5 77.0\\125.4 4.9\\126.4 0\\127.4 -18.0\\128.4 -19.7\\129.4 -3.3\\130.5 -3.3\\131.7 -4.9\\132.9 -4.1\\134.1 -6.6\\135.2 -3.3\\136.4 0.8\\137.6 -6.6\\138.8 -4.9\\139.9 -3.3\\141.1 -1.6\\142.3 5.7\\143.5 3.3\\144.6 0\\145.6 1.6\\146.6 17.2\\147.6 -7.4\\148.6 -1.6\\149.7 0\\150.9 3.3\\152.1 -1.6\\153.1 -4.9\\154.1 -14.8\\155.2 -19.7\\156.2 -24.6\\157.4 -33.6\\158.4 1.6\\159.3 3.3\\160.3 0.8\\161.3 -29.5\\162.5 -50.8\\163.5 -68.0\\164.4 -18.0\\165.4 6.6\\166.6 -4.1\\167.6 3.3\\168.8 -9.8\\169.7 2.5\\170.7 -3.3\\171.9 1.6\\172.9 7.4\\174.0 -1.6\\175.2 -3.3\\176.2 0\\177.2 -2.5\\178.4 -9.8\\179.3 -9.8\\180.7 8.2\\181.9 -1.6\\183.1 -16.4\\184.2 -22.1\\185.4 1.6\\186.6 16.4\\187.8 21.3\\188.9 26.2\\190.1 22.1\\191.3 0\\192.5 -3.3\\193.6 -1.6\\194.8 6.6\\195.6 9.0\\196.8 0\\198.0 -3.3\\199.1 -9.0\\200.3 -3.3\\201.5 4.1\\202.5 1.6\\203.4 6.6\\204.6 10.7\\205.8 5.7\\207.0 9.8\\208.2 6.6\\209.3 9.8\\210.3 3.3\\211.3 27.9\\212.3 44.3\\213.2 55.7\\214.2 68.0\\215.2 4.9\\216.2 13.1\\217.4 12.3\\218.5 13.1\\219.5 -1.6\\220.5 -6.6\\221.5 -17.2\\222.5 14.8\\223.6 -8.2\\224.6 -48.4\\225.6 -1.6\\226.6 -16.4\\227.8 -34.4\\228.9 -52.5\\229.9 -78.7\\230.9 -96.4\\232.1 1.6\\232.8 -4.9\\233.8 4.1\\234.8 -32.0\\236.0 -41.0\\237.0 -50.0\\238.1 3.3\\239.1 -6.6\\240.1 -11.5\\241.1 4.9\\242.3 6.6\\243.0 2.5\\244.2 -3.3\\245.4 7.4\\246.6 9.8\\247.5 11.5\\248.5 0.8\\249.5 -6.6\\250.5 -11.5\\251.5 7.4\\252.4 -2.5\\253.4 18.0\\254.4 19.7\\255.4 0.8\\256.4 -9.8\\257.5 -14.8\\258.5 2.5\\259.5 -23.0\\260.7 -34.4\\261.8 -43.4\\262.8 0.8\\263.8 -4.9\\264.8 -7.4\\265.8 0.8\\266.8 18.0\\267.9 44.6\\268.9 -1.6\\269.9 -8.2\\270.9 1.6\\272.0 -7.4\\273.0 3.3\\274.2 -7.4\\275.2 3.3\\276.4 -6.6\\277.3 -12.3\\278.3 4.1\\279.3 9.8\\280.3 21.3\\281.5 0\\282.4 -4.9\\283.4 -18.0\\284.4 1.6\\285.4 -1.6\\286.6 -1.6\\287.7 -3.3\\288.9 -9.8\\289.7 -3.3\\290.9 -4.9\\292.0 -1.6\\293.2 3.3\\294.0 9.8\\295.0 34.4\\296.0 8.2\\296.9 -21.3\\297.9 -41.8\\299.1 10.7\\300 -3.3\\}\pup

\pgfplotsset{
  base/.style={
    scale only axis, width=327.5pt,
    axis line style={axgray, line width=0.55pt},
    every tick/.style={axgray, line width=0.55pt},
    tick align=inside, major tick length=3.5pt,
    ymajorgrids,
    major grid style={axgray, line width=0.55pt, dash pattern=on 0.6pt off 3.1pt},
    xmin=0, xmax=300,
    xtick=\empty, ytick pos=both, xtick pos=both,
    /pgf/number format/assume math mode=true,
    tick label style={font=\fontsize{14.3}{16}\selectfont, text=axgray},
    yticklabel style={xshift=-2pt},
    xticklabel style={yshift=-6.2pt},
    title style={at={(axis description cs:0.5,1)}, anchor=base, yshift=4pt,
                 font=\fontsize{17.7}{20}\selectfont, text=black},
    xlabel style={at={(axis description cs:0.5,0)}, anchor=base, yshift=-45pt,
                  font=\fontsize{17.7}{20}\selectfont, text=axgray},
    ylabel style={at={(axis description cs:-0.0893,0.5)}, anchor=base,
                  font=\fontsize{17.7}{20}\selectfont, text=axgray},
    every axis plot/.append style={line width=1.5pt, line join=round, no markers},
  },
  lefty/.style={ymin=-8, ymax=8, ytick={-8,-4,0,4,8}},
  righty/.style={ymin=-100, ymax=100, ytick={-100,-50,0,50,100}, width=328pt},
  bottomx/.style={xtick={0,100,200,300}, xlabel={GPS Time(HH:MM)}},
}

\begin{document}
\begin{tikzpicture}
\useasboundingbox (0pt,0pt) rectangle (784pt,-428pt);

% ---------- left column
\begin{axis}[base, lefty, at={(52.5pt,-35pt)}, anchor=north west, height=96.5pt,
  title={Good satellite visibility}, ylabel={East(m)}]
  \addplot[red] table[x=t,y=y] {\eastR};
  \addplot[blue] table[x=t,y=y] {\eastB};
\end{axis}

\begin{axis}[base, lefty, at={(52.5pt,-154pt)}, anchor=north west, height=97.5pt,
  ylabel={North(m)},
  legend entries={No correction, Correction},
  legend cell align=left,
  legend image code/.code={\draw[#1] (0pt,0pt) -- (27.5pt,0pt);},
  legend style={at={(axis description cs:0,1.3456)}, anchor=north west,
    draw=axgray, line width=0.55pt, fill=white,
    font=\fontsize{15}{18}\selectfont,
    inner xsep=2.5pt, inner ysep=5pt, row sep=6.3pt,
    nodes={inner sep=0pt, text height=13.3pt, text depth=1pt},
    /tikz/every odd column/.append style={column sep=4.5pt}}]
  \addplot[red] table[x=t,y=y] {\northR};
  \addplot[blue] table[x=t,y=y] {\northB};
\end{axis}

\begin{axis}[base, lefty, bottomx, at={(52.5pt,-275.5pt)}, anchor=north west, height=96pt,
  ylabel={Up(m)}, xticklabels={01:55,01:56,01:58,02:00}]
  \addplot[red] table[x=t,y=y] {\upR};
  \addplot[blue] table[x=t,y=y] {\upB};
\end{axis}

% ---------- right column
\begin{axis}[base, righty, at={(430.5pt,-35pt)}, anchor=north west, height=96.5pt,
  title={Poor satellite visibility}]
  \addplot[red] table[x=t,y=y] {\peast};
  \addplot[blue] table[x=t,y=y] {\peast};
\end{axis}

\begin{axis}[base, righty, at={(430.5pt,-154pt)}, anchor=north west, height=97.5pt]
  \addplot[red] table[x=t,y=y] {\pnorth};
  \addplot[blue] table[x=t,y=y] {\pnorth};
\end{axis}

\begin{axis}[base, righty, bottomx, at={(430.5pt,-275.5pt)}, anchor=north west, height=96pt,
  xticklabels={02:50,02:52,02:53,02:55}]
  \addplot[red] table[x=t,y=y] {\pup};
  \addplot[blue] table[x=t,y=y] {\pup};
\end{axis}
\end{tikzpicture}
\end{document}
